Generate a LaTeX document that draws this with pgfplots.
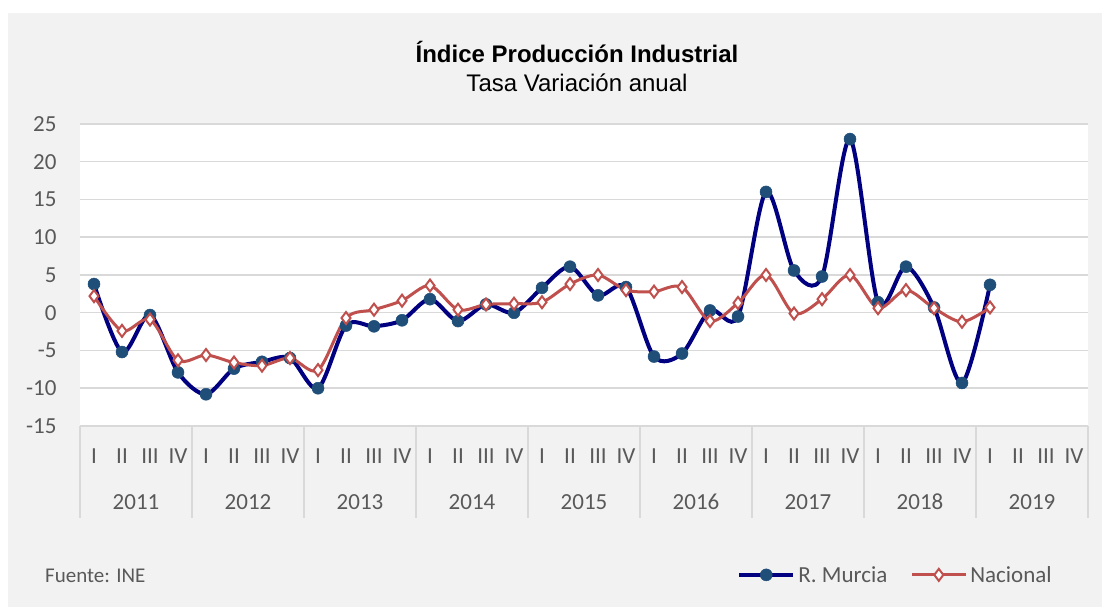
\documentclass[border=0pt]{standalone}
\usepackage{fontspec}
\setmainfont{Carlito}[Numbers=Lining]
\newfontfamily\arial{Liberation Sans}
\usepackage{pgfplots}
\pgfplotsset{compat=1.18}
\usepackage{pgfplotstable}

\definecolor{bggray}{HTML}{F2F2F2}
\definecolor{gridgray}{HTML}{D9D9D9}
\definecolor{txtgray}{HTML}{595959}
\definecolor{murcialine}{HTML}{000080}
\definecolor{murciamark}{HTML}{1F4E79}
\definecolor{nacred}{HTML}{C0504D}

% quarter index (2011 I = 0), annual rate of change
\pgfplotstableread{
q  murcia  nacional
0   3.8    2.2
1  -5.2   -2.4
2  -0.3   -0.9
3  -7.9   -6.3
4  -10.8  -5.6
5  -7.4   -6.6
6  -6.5   -7.0
7  -6.0   -6.0
8  -10.0  -7.6
9  -1.7   -0.7
10 -1.8    0.4
11 -1.0    1.6
12  1.8    3.6
13 -1.1    0.4
14  1.1    1.1
15  0.0    1.2
16  3.3    1.4
17  6.1    3.8
18  2.3    5.0
19  3.4    3.0
20 -5.8    2.8
21 -5.4    3.4
22  0.3   -1.1
23 -0.5    1.3
24 16.0    5.0
25  5.6   -0.1
26  4.8    1.8
27 23.0    5.0
28  1.4    0.6
29  6.1    3.0
30  0.7    0.6
31 -9.3   -1.2
32  3.7    0.7
}\ipidata

\newcommand\lbl{\fontsize{23}{27}\selectfont}

\begin{document}
\begin{tikzpicture}
\fill[white] (0,0) rectangle (1102pt,607pt);
\fill[bggray] (8pt,0) rectangle (1102pt,594pt);

\node[font=\arial\bfseries\fontsize{24}{28}\selectfont, anchor=base] at (577pt,544pt) {Índice Producción Industrial};
\node[font=\arial\fontsize{24}{28}\selectfont, anchor=base] at (577pt,515pt) {Tasa Variación anual};
\node[font=\fontsize{21}{25}\selectfont, text=txtgray, anchor=base west, inner sep=0pt] at (45pt,24pt) {Fuente: INE};

\begin{axis}[
    at={(80pt,181pt)}, anchor=south west,
    scale only axis, width=1008pt, height=302pt,
    xmin=-0.5, xmax=35.5, ymin=-15, ymax=25,
    ytick={-15,-10,...,25},
    xtick={0,...,35},
    xticklabels={I,II,III,IV,I,II,III,IV,I,II,III,IV,I,II,III,IV,I,II,III,IV,I,II,III,IV,I,II,III,IV,I,II,III,IV,I,II,III,IV},
    major tick length=0pt,
    axis line style={draw=none},
    ymajorgrids, grid style={gridgray, line width=1.5pt},
    axis background/.style={fill=white},
    tick label style={font=\lbl, text=txtgray},
    /pgf/number format/assume math mode=true,
    yticklabel style={xshift=-20pt},
    xticklabel style={anchor=center, yshift=-30pt},
    clip=false,
    legend columns=2,
    legend style={at={(axis description cs:0.8095,-0.493)}, anchor=center,
        draw=none, fill=none, font=\lbl, text=txtgray,
        nodes={inner xsep=3pt},
        /tikz/every even column/.append style={column sep=20pt}},
    legend image code/.code={\draw[mark repeat=2, mark phase=2] plot coordinates {(0pt,0pt) (27pt,0pt) (54pt,0pt)};},
  ]
  \addplot[murcialine, line width=4pt, smooth, tension=0.5,
      mark=*, mark size=6pt, mark options={fill=murciamark, draw=murciamark, line width=0.5pt}]
      table[x=q, y=murcia] {\ipidata};
  \addlegendentry{R. Murcia}
  \addplot[nacred, line width=3pt, smooth, tension=0.5,
      mark=diamond*, mark size=6pt, mark options={fill=white, draw=nacred, line width=2pt}]
      table[x=q, y=nacional] {\ipidata};
  \addlegendentry{Nacional}

  % category separators
  \pgfplotsinvokeforeach{-0.5,3.5,7.5,11.5,15.5,19.5,23.5,27.5,31.5,35.5}{
    \draw[gridgray, line width=1.5pt] (axis cs:#1,-15) -- ++(0pt,-92pt);
  }
  \draw[gridgray, line width=1.5pt] (axis cs:-0.5,-15) -- (axis cs:35.5,-15);
  % year labels
  \begin{scope}[every node/.style={font=\lbl, text=txtgray, anchor=base}]
  \node at (axis cs:1.5,-15) [yshift=-84pt] {2011};
  \node at (axis cs:5.5,-15) [yshift=-84pt] {2012};
  \node at (axis cs:9.5,-15) [yshift=-84pt] {2013};
  \node at (axis cs:13.5,-15) [yshift=-84pt] {2014};
  \node at (axis cs:17.5,-15) [yshift=-84pt] {2015};
  \node at (axis cs:21.5,-15) [yshift=-84pt] {2016};
  \node at (axis cs:25.5,-15) [yshift=-84pt] {2017};
  \node at (axis cs:29.5,-15) [yshift=-84pt] {2018};
  \node at (axis cs:33.5,-15) [yshift=-84pt] {2019};
  \end{scope}
\end{axis}
\end{tikzpicture}
\end{document}
